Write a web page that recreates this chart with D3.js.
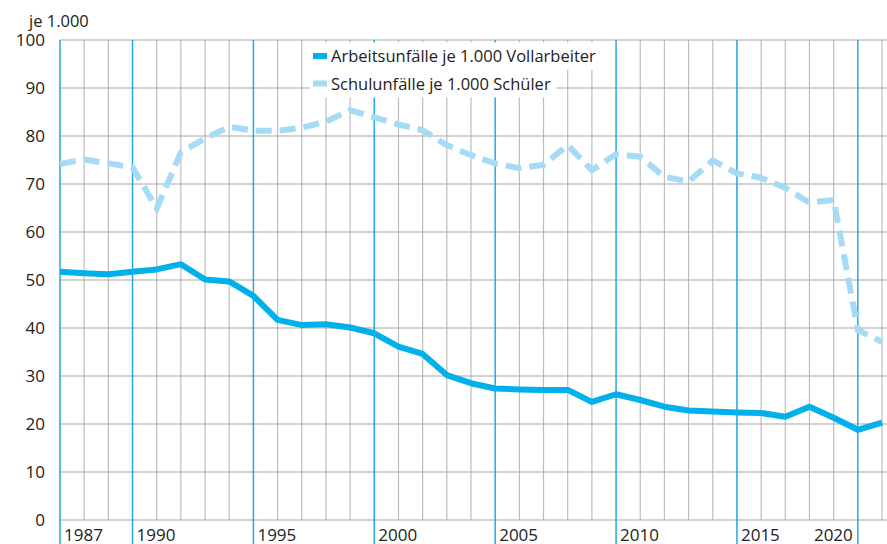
<!DOCTYPE html>
<html>
<head>
<meta charset="utf-8">
<script src="https://d3js.org/d3.v7.min.js"></script>
<style>
  body { margin: 0; background: #fff; }
  text { font-family: "Open Sans", sans-serif; fill: #222; }
</style>
</head>
<body>
<script>

// data
let years = d3.range(1987, 2022);
let arbeit = [51.7, 51.4, 51.2, 51.7, 52.2, 53.3, 50.1, 49.7, 46.7, 41.7,
              40.6, 40.8, 40.1, 38.9, 36.1, 34.6, 30.2, 28.5, 27.4, 27.2,
              27.1, 27.1, 24.6, 26.2, 25.0, 23.6, 22.8, 22.6, 22.4, 22.3,
              21.5, 23.6, 21.3, 18.8, 20.3];
let schule = [74.2, 75.1, 74.3, 73.5, 64.9, 76.6, 79.5, 81.9, 81.1, 81.1,
              81.7, 83.0, 85.4, 83.9, 82.4, 81.2, 78.1, 76.0, 74.3, 73.3,
              74.0, 78.1, 72.9, 76.2, 75.7, 71.5, 70.5, 74.9, 72.2, 71.3,
              69.2, 66.1, 66.7, 39.6, 37.1];
let yTicks = [0, 10, 20, 30, 40, 50, 60, 70, 80, 90, 100];
let xLabels = [1987, 1990, 1995, 2000, 2005, 2010, 2015, 2020];
let legendNames = ["Arbeitsunfälle je 1.000 Vollarbeiter", "Schulunfälle je 1.000 Schüler"];

let width = 887, height = 544;
let mLeft = 60, mRight = 882, mTop = 40, mBottom = 520;

let x = d3.scaleLinear().domain([1987, 2021]).range([mLeft, mRight]);
let y = d3.scaleLinear().domain([0, 100]).range([mBottom, mTop]);

let svg = d3.select("body").append("svg").attr("width", width).attr("height", height);

// vertical grid, gray for normal years
svg.append("g").selectAll("line")
  .data(years.filter(d => xLabels.indexOf(d) < 0))
  .enter().append("line")
  .attr("x1", d => x(d)).attr("x2", d => x(d))
  .attr("y1", mTop).attr("y2", mBottom)
  .attr("stroke", "#bdbdbd").attr("stroke-width", 1.2);

// horizontal grid
svg.append("g").selectAll("line")
  .data(yTicks)
  .enter().append("line")
  .attr("x1", mLeft).attr("x2", width)
  .attr("y1", d => y(d)).attr("y2", d => y(d))
  .attr("stroke", "#a6a6a6").attr("stroke-width", 1.2);

// blue lines at labelled years
svg.append("g").selectAll("line")
  .data(xLabels)
  .enter().append("line")
  .attr("x1", d => x(d)).attr("x2", d => x(d))
  .attr("y1", mTop).attr("y2", height)
  .attr("stroke", "#27a7df").attr("stroke-width", 1.5);

// y axis
let yAxis = svg.append("g")
  .attr("transform", "translate(" + mLeft + ",0)")
  .call(d3.axisLeft(y).tickValues(yTicks).tickSize(0).tickPadding(15));
yAxis.select(".domain").remove();
yAxis.selectAll("text").style("font-size", "17px").style("font-family", "'Open Sans', sans-serif").attr("fill", "#222");

svg.append("text").attr("x", 29).attr("y", 27).style("font-size", "16.5px").text("je 1.000");

// x labels
svg.append("g").selectAll("text")
  .data(xLabels)
  .enter().append("text")
  .attr("x", d => d == 2020 ? x(d) - 5 : x(d) + 4)
  .attr("y", 541)
  .attr("text-anchor", d => d == 2020 ? "end" : "start")
  .style("font-size", "17px")
  .text(d => d);

// lines
let line = d3.line().x((d, i) => x(years[i])).y(d => y(d));

svg.append("path").datum(schule)
  .attr("d", line)
  .attr("fill", "none")
  .attr("stroke", "#a6dbf6")
  .attr("stroke-width", 6)
  .attr("stroke-dasharray", "16,8");

svg.append("path").datum(arbeit)
  .attr("d", line)
  .attr("fill", "none")
  .attr("stroke", "#00b0ea")
  .attr("stroke-width", 6)
  .attr("stroke-linejoin", "round");

// legend
let colors = ["#00b0ea", "#a6dbf6"];
let lg = svg.append("g");
legendNames.forEach(function(name, i) {
  let cy = 56 + i * 27.5;
  let bg = lg.append("rect").attr("fill", "#fff");
  lg.append("rect")
    .attr("x", 313).attr("y", cy - 3).attr("width", 14).attr("height", 6)
    .attr("fill", colors[i]);
  let t = lg.append("text")
    .attr("x", 331).attr("y", cy + 6)
    .style("font-size", "16.5px")
    .text(name);
  let w = t.node().getComputedTextLength();
  bg.attr("x", 310).attr("y", cy - 13.5).attr("width", w + 27).attr("height", 27.5);
});

</script>
</body>
</html>
